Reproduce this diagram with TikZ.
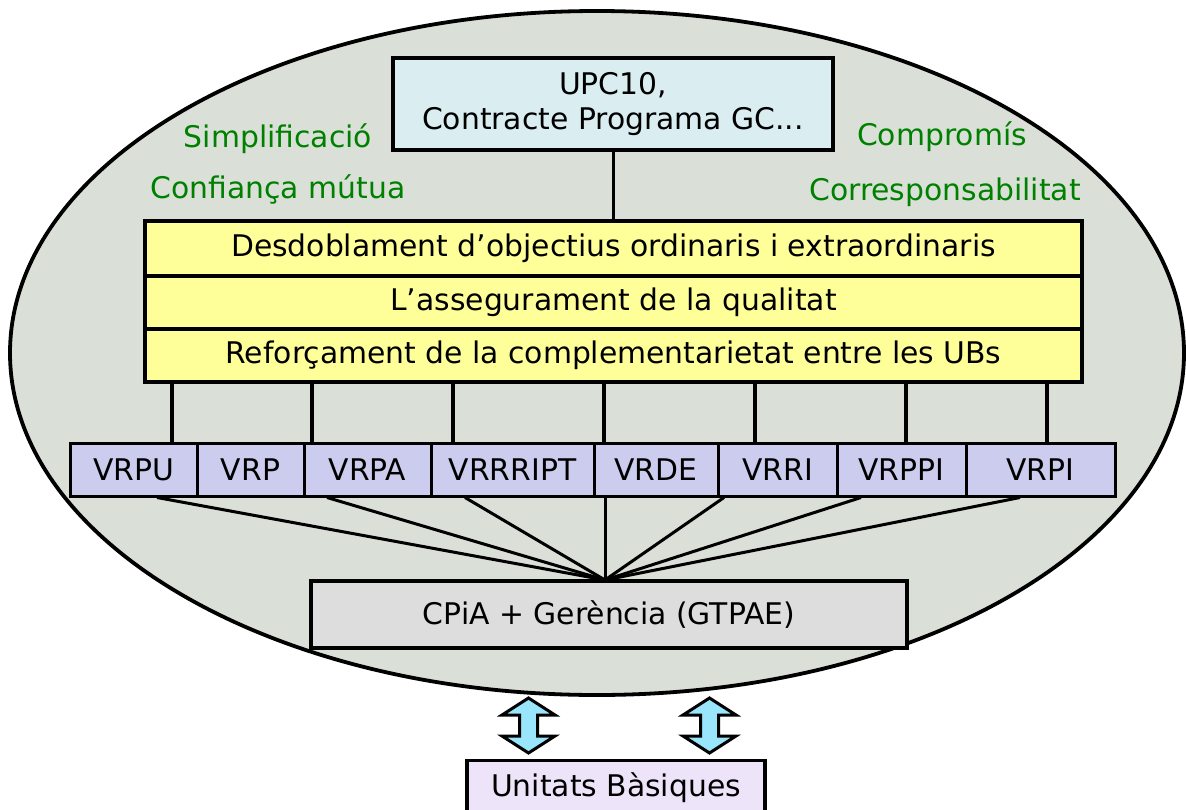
\documentclass[tikz,border=0pt]{standalone}
\usepackage{fontspec}
\setmainfont{DejaVu Sans}
\definecolor{ellfill}{RGB}{218,224,216}
\definecolor{upcfill}{RGB}{218,238,242}
\definecolor{yfill}{RGB}{255,255,153}
\definecolor{vrfill}{RGB}{204,204,238}
\definecolor{cpfill}{RGB}{221,221,221}
\definecolor{ubfill}{RGB}{238,228,250}
\definecolor{arfill}{RGB}{153,229,252}
\definecolor{vgreen}{RGB}{0,128,0}
\begin{document}
\begin{tikzpicture}[x=1pt,y=-1pt,
  every node/.style={font=\fontsize{29.8}{35}\selectfont, inner sep=0pt},
  box/.style={draw=black, line width=3.4pt, rectangle, anchor=center},
  upcbox/.style={box, fill=upcfill, align=center, minimum width=440pt, minimum height=92pt},
  ybox/.style={box, fill=yfill, minimum width=937pt},
  vrbox/.style={box, line width=3pt, fill=vrfill, minimum height=53pt},
  cpbox/.style={box, fill=cpfill, minimum width=596pt, minimum height=67pt},
  ubbox/.style={box, fill=ubfill},
  gtext/.style={text=vgreen, anchor=base},
  link/.style={draw=black, line width=3.4pt},
  fan/.style={draw=black, line width=3pt},
  bigarrow/.style={draw=black, line width=3pt, fill=arfill, line join=miter}
]
\useasboundingbox (0,0) rectangle (1186,809);
\clip (0,0) rectangle (1186,809);

% ellipse
\draw[line width=3.8pt, fill=ellfill] (597,353) ellipse [x radius=587pt, y radius=342pt];

% green texts
\node[gtext] (simp) at (278,147) {Simplificació};
\node[gtext] (conf) at (278,198) {Confiança mútua};
\node[gtext] (comp) at (942,145) {Compromís};
\node[gtext] (corr) at (945,200) {Corresponsabilitat};

% top box
\node[upcbox] (upc) at (613,104) {UPC10,\\Contracte Programa GC...};

% yellow rows
\node[ybox, minimum height=55pt] (obj) at (613.5,248.5) {Desdoblament d’objectius ordinaris i extraordinaris};
\node[ybox, minimum height=53pt] (qual) at (613.5,302.5) {L’assegurament de la qualitat};
\node[ybox, minimum height=53pt] (refor) at (613.5,355.5) {Reforçament de la complementarietat entre les UBs};

\draw[link] (upc.south -| obj.north) -- (obj.north);

% VR boxes
\node[vrbox, minimum width=127pt] (vrpu) at (133.5,469.5) {VRPU};
\node[vrbox, minimum width=107pt] (vrp) at (250.5,469.5) {VRP};
\node[vrbox, minimum width=127pt] (vrpa) at (367.5,469.5) {VRPA};
\node[vrbox, minimum width=163pt] (vrrript) at (512.5,469.5) {VRRRIPT};
\node[vrbox, minimum width=124pt] (vrde) at (656,469.5) {VRDE};
\node[vrbox, minimum width=119pt] (vrri) at (777.5,469.5) {VRRI};
\node[vrbox, minimum width=129pt] (vrppi) at (901.5,469.5) {VRPPI};
\node[vrbox, minimum width=149pt] (vrpi) at (1040.5,469.5) {VRPI};

% vertical links
\foreach \xx/\nm in {172/vrpu, 312/vrpa, 453/vrrript, 604/vrde, 755/vrri, 906/vrppi, 1047/vrpi}{
  \coordinate (vx) at (\xx,0);
  \draw[link] (refor.south -| vx) -- (\nm.north -| vx);
}

% CPiA box
\node[cpbox] (cpia) at (609,614.5) {CPiA + Gerència (GTPAE)};
\coordinate (hub) at (605,580);

% fan lines
\foreach \xx/\nm in {157/vrpu, 327/vrpa, 465/vrrript, 605/vrde, 724/vrri, 861/vrppi, 1020/vrpi}{
  \coordinate (fx) at (\xx,0);
  \draw[fan] (\nm.south -| fx) -- (hub);
}

% Unitats Basiques
\node[ubbox, anchor=north, minimum width=298pt, text height=36pt, text depth=50pt] (ub) at (616,759) {Unitats Bàsiques};

% double arrows
\foreach \cx in {528.5, 709.5}{
  \draw[bigarrow] (\cx,698) -- (\cx+26.5,715) -- (\cx+9,715) -- (\cx+9,736) -- (\cx+26.5,736)
    -- (\cx,753) -- (\cx-26.5,736) -- (\cx-9,736) -- (\cx-9,715) -- (\cx-26.5,715) -- cycle;
}
\end{tikzpicture}
\end{document}
